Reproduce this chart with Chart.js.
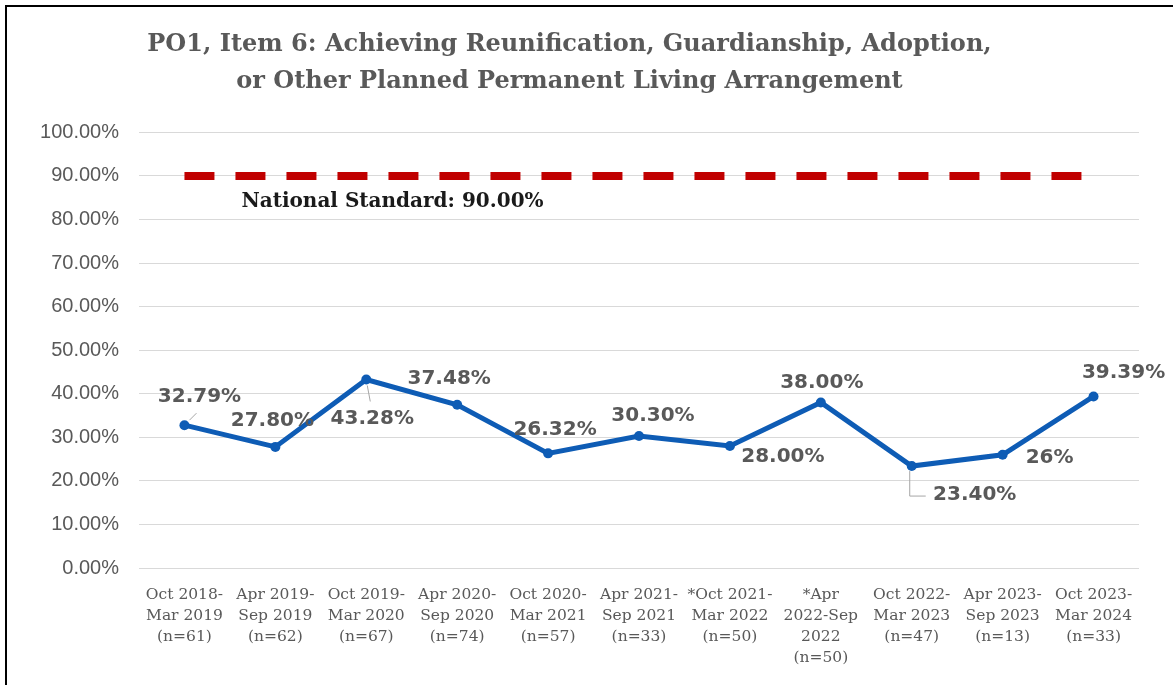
<!DOCTYPE html>
<html>
<head>
<meta charset="utf-8">
<script src="https://cdn.jsdelivr.net/npm/chart.js@4"></script>
<style>
    body { margin: 0; background: #fff; }
    #wrap { position: relative; width: 1173px; height: 685px; overflow: hidden; }
    #frame { position: absolute; left: 5px; top: 5px; width: 1200px; height: 720px; border-left: 2px solid #000; border-top: 2px solid #000; pointer-events: none; }
</style>
</head>
<body>
<div id="wrap">
    <canvas id="counts" width="1173" height="685"></canvas>
    <div id="frame"></div>
</div>
<script>
const periods = [
    ['Oct 2018-', 'Mar 2019', '(n=61)'],
    ['Apr 2019-', 'Sep 2019', '(n=62)'],
    ['Oct 2019-', 'Mar 2020', '(n=67)'],
    ['Apr 2020-', 'Sep 2020', '(n=74)'],
    ['Oct 2020-', 'Mar 2021', '(n=57)'],
    ['Apr 2021-', 'Sep 2021', '(n=33)'],
    ['*Oct 2021-', 'Mar 2022', '(n=50)'],
    ['*Apr', '2022-Sep', '2022', '(n=50)'],
    ['Oct 2022-', 'Mar 2023', '(n=47)'],
    ['Apr 2023-', 'Sep 2023', '(n=13)'],
    ['Oct 2023-', 'Mar 2024', '(n=33)']
];
const achieved = [32.79, 27.80, 43.28, 37.48, 26.32, 30.30, 28.00, 38.00, 23.40, 26, 39.39];
const value_labels = ['32.79%', '27.80%', '43.28%', '37.48%', '26.32%', '30.30%', '28.00%', '38.00%', '23.40%', '26%', '39.39%'];
const national_standard = 90;
const standard_label = 'National Standard: 90.00%';

// label offsets from each point (px)
const label_offsets = [[15, -28], [-3, -26], [6, 39], [-8, -26], [7, -24], [14, -20], [53, 11], [1, -20], [63, 29], [47, 3], [30, -24]];

const valueLabels = {
    id: 'valueLabels',
    afterDatasetsDraw(chart) {
        const ctx = chart.ctx;
        const meta = chart.getDatasetMeta(0);
        ctx.save();
        // leader lines
        ctx.strokeStyle = '#a6a6a6';
        ctx.lineWidth = 1;
        const p0 = meta.data[0], p2 = meta.data[2], p8 = meta.data[8];
        ctx.beginPath();
        ctx.moveTo(p0.x + 5, p0.y - 5); ctx.lineTo(p0.x + 12, p0.y - 12);
        ctx.moveTo(p2.x + 1, p2.y + 6); ctx.lineTo(p2.x + 4, p2.y + 22);
        ctx.moveTo(p8.x - 2, p8.y + 5); ctx.lineTo(p8.x - 2, p8.y + 30); ctx.lineTo(p8.x + 14, p8.y + 30);
        ctx.stroke();

        ctx.font = 'bold 20px "DejaVu Sans"';
        ctx.fillStyle = '#595959';
        ctx.textAlign = 'center';
        ctx.textBaseline = 'middle';
        meta.data.forEach((pt, i) => {
            const off = label_offsets[i];
            ctx.fillText(value_labels[i], pt.x + off[0], pt.y + off[1]);
        });

        const xs = chart.scales.x, ys = chart.scales.y;
        ctx.font = 'bold 20px "DejaVu Serif"';
        ctx.fillStyle = '#1a1a1a';
        ctx.textAlign = 'left';
        ctx.fillText(standard_label, xs.getPixelForValue(0) + 57, ys.getPixelForValue(national_standard) + 26);
        ctx.restore();
    }
};

const ctx = document.getElementById('counts').getContext('2d');
const po_chart = new Chart(ctx, {
    type: 'line',
    data: {
        labels: periods,
        datasets: [
            {
                label: 'Achieved',
                data: achieved,
                borderColor: '#0E5CB5',
                backgroundColor: '#0E5CB5',
                borderWidth: 5,
                pointRadius: 5,
                pointBorderWidth: 0,
                fill: false
            },
            {
                label: 'National Standard',
                data: periods.map(() => national_standard),
                borderColor: '#C00000',
                borderWidth: 8,
                borderDash: [30, 21],
                borderCapStyle: 'butt',
                pointRadius: 0,
                fill: false
            }
        ]
    },
    options: {
        responsive: false,
        animation: false,
        layout: {
            padding: { left: 0, right: 34, top: 0, bottom: 0 }
        },
        scales: {
            x: {
                offset: true,
                grid: { display: false },
                border: { display: false },
                ticks: {
                    color: '#595959',
                    font: { family: '"DejaVu Serif"', size: 15.5, lineHeight: 1.355 },
                    padding: 8,
                    maxRotation: 0,
                    autoSkip: false
                },
                afterFit(scale) { scale.height = 117; }
            },
            y: {
                min: 0,
                max: 100,
                grid: { color: '#d9d9d9', lineWidth: 1, drawTicks: false },
                border: { display: false },
                ticks: {
                    stepSize: 10,
                    color: '#595959',
                    font: { family: '"Liberation Sans"', size: 20 },
                    padding: 20,
                    callback: v => v.toFixed(2) + '%'
                },
                afterFit(scale) { scale.width = 139; }
            }
        },
        plugins: {
            legend: { display: false },
            tooltip: { enabled: false },
            title: {
                display: true,
                text: ['PO1, Item 6: Achieving Reunification, Guardianship, Adoption,', 'or Other Planned Permanent Living Arrangement'],
                color: '#595959',
                font: { family: '"DejaVu Serif"', size: 24, weight: 'bold', lineHeight: 1.55 },
                padding: { top: 26, bottom: 32 }
            }
        }
    },
    plugins: [valueLabels]
});
</script>
</body>
</html>
